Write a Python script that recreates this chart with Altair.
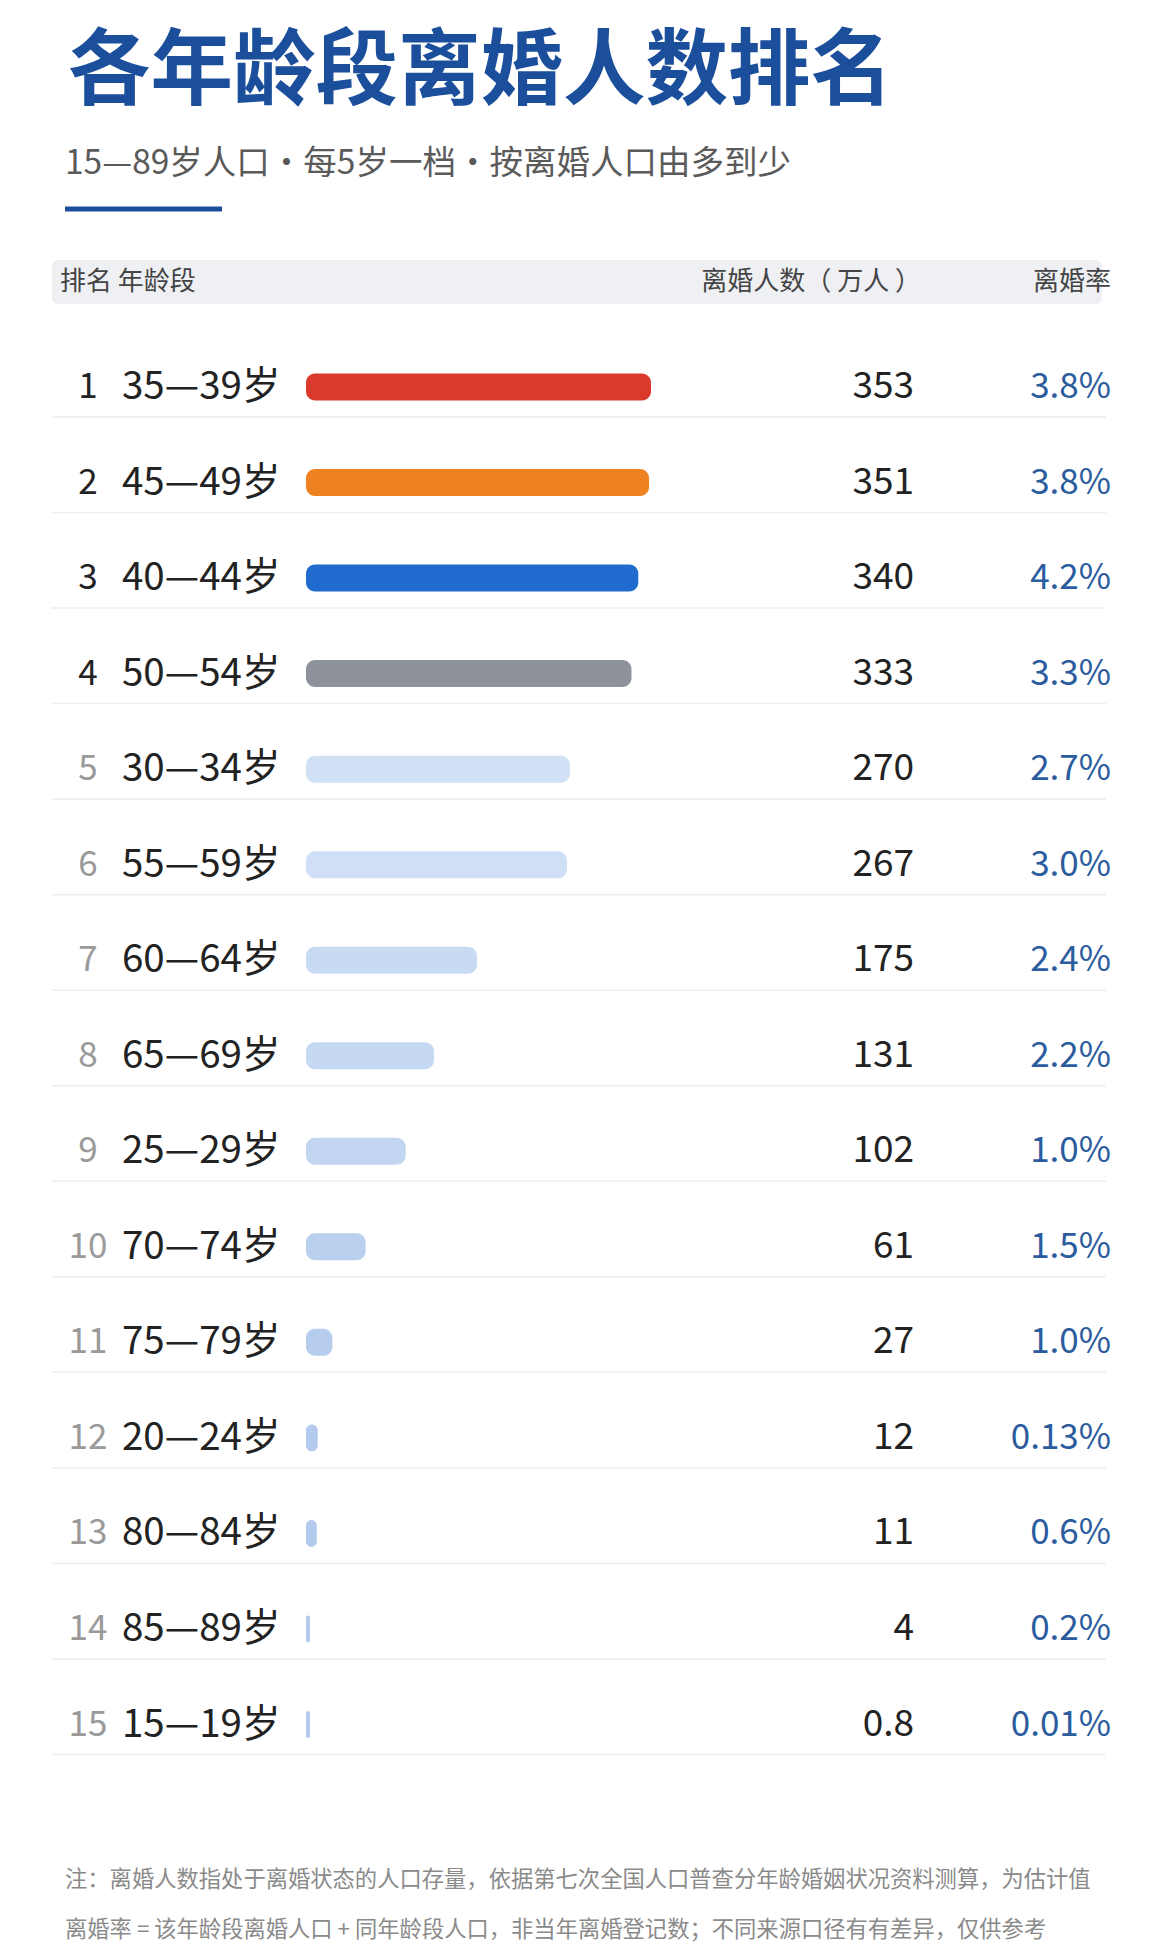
import altair as alt
import pandas as pd

# ---------------- data ----------------
title_text = "各年龄段离婚人数排名"
subtitle_text = "15—89岁人口·每5岁一档·按离婚人口由多到少"
header_left = "排名 年龄段"
header_mid = "离婚人数（ 万人 ）"
header_right = "离婚率"
note_1 = "注：离婚人数指处于离婚状态的人口存量，依据第七次全国人口普查分年龄婚姻状况资料测算，为估计值"
note_2 = "离婚率 = 该年龄段离婚人口 + 同年龄段人口，非当年离婚登记数；不同来源口径有有差异，仅供参考"

ranks = list(range(1, 16))
ages = ["35—39岁", "45—49岁", "40—44岁", "50—54岁", "30—34岁", "55—59岁", "60—64岁",
        "65—69岁", "25—29岁", "70—74岁", "75—79岁", "20—24岁", "80—84岁", "85—89岁", "15—19岁"]
counts = [353, 351, 340, 333, 270, 267, 175, 131, 102, 61, 27, 12, 11, 4, 0.8]
count_labels = ["353", "351", "340", "333", "270", "267", "175", "131", "102", "61",
                "27", "12", "11", "4", "0.8"]
rates = ["3.8%", "3.8%", "4.2%", "3.3%", "2.7%", "3.0%", "2.4%", "2.2%", "1.0%", "1.5%",
         "1.0%", "0.13%", "0.6%", "0.2%", "0.01%"]

# ---------------- styles ----------------
bar_colors = ["#d93a2c", "#ef8220", "#1f6bce", "#8d929b",
              "#d0e0f5", "#cfdff5", "#c9dbf3", "#c6d9f2", "#c2d6f1",
              "#bad0ef", "#b6cdee", "#b4cbed", "#b3caed", "#b3caed", "#b3caed"]
FONT = "Noto Sans CJK SC"
TITLE_BLUE = "#1b4f9c"

df = pd.DataFrame({"rank": ranks, "age": ages, "count": counts,
                   "label": count_labels, "rate": rates})
df["zero"] = 0.0
df["disp"] = df["count"].clip(lower=4)

one = pd.DataFrame({"a": [0]})

W, H = 1136, 1937
yscale = alt.Scale(domain=[1, 15], range=[374, 1721.5])
xscale = alt.Scale(domain=[0, 353], range=[298, 643])
Y = alt.Y("rank:Q", scale=yscale, axis=None)

# ---------------- decoration ----------------
title = alt.Chart(one).mark_text(align="left", baseline="middle", fontSize=82.5,
                                 fontWeight="bold", color=TITLE_BLUE, font=FONT).encode(
    x=alt.value(60), y=alt.value(65), text=alt.value(title_text))

subtitle = alt.Chart(one).mark_text(align="left", baseline="middle", fontSize=33.5,
                                    color="#5a5a5a", font=FONT).encode(
    x=alt.value(57), y=alt.value(156), text=alt.value(subtitle_text))

underline = alt.Chart(one).mark_rule(color=TITLE_BLUE, strokeWidth=5).encode(
    x=alt.value(57), x2=alt.value(214), y=alt.value(201))

header_bg = alt.Chart(one).mark_rect(color="#eef0f4", cornerRadius=6).encode(
    x=alt.value(44), x2=alt.value(1094), y=alt.value(252), y2=alt.value(296))

hdr_l = alt.Chart(one).mark_text(align="left", baseline="middle", fontSize=26,
                                 color="#444444", font=FONT).encode(
    x=alt.value(52), y=alt.value(274), text=alt.value(header_left))
hdr_m = alt.Chart(one).mark_text(align="right", baseline="middle", fontSize=26,
                                 color="#444444", font=FONT).encode(
    x=alt.value(913), y=alt.value(274), text=alt.value(header_mid))
hdr_r = alt.Chart(one).mark_text(align="right", baseline="middle", fontSize=26,
                                 color="#444444", font=FONT).encode(
    x=alt.value(1103), y=alt.value(274), text=alt.value(header_right))

notes1 = alt.Chart(one).mark_text(align="left", baseline="middle", fontSize=22.3,
                                  color="#8a8a8a", font=FONT).encode(
    x=alt.value(57), y=alt.value(1872), text=alt.value(note_1))
notes2 = alt.Chart(one).mark_text(align="left", baseline="middle", fontSize=22.3,
                                  color="#8a8a8a", font=FONT).encode(
    x=alt.value(57), y=alt.value(1922), text=alt.value(note_2))

# ---------------- rows ----------------
base = alt.Chart(df)

separators = base.mark_rule(color="#eceef2", strokeWidth=1.5, yOffset=30).encode(
    x=alt.value(44), x2=alt.value(1098), y=Y)

bars = base.mark_bar(orient="horizontal", size=27, cornerRadius=9).encode(
    x=alt.X("zero:Q", scale=xscale, axis=None),
    x2="disp:Q",
    y=Y,
    color=alt.Color("rank:O", scale=alt.Scale(domain=ranks, range=bar_colors), legend=None),
)

rank_txt = base.mark_text(align="center", baseline="middle", fontSize=35, font=FONT).encode(
    x=alt.value(80), y=Y, text="rank:Q",
    color=alt.condition("datum.rank <= 4", alt.value("#222222"), alt.value("#9a9a9a")))

age_txt = base.mark_text(align="left", baseline="middle", fontSize=38.5, font=FONT,
                         color="#222222").encode(
    x=alt.value(114), y=Y, text="age:N")

val_txt = base.mark_text(align="right", baseline="middle", fontSize=37, font=FONT,
                         color="#222222").encode(
    x=alt.value(906), y=Y, text="label:N")

rate_txt = base.mark_text(align="right", baseline="middle", fontSize=35, font=FONT,
                          color="#2b5c9e").encode(
    x=alt.value(1103), y=Y, text="rate:N")

chart = alt.layer(
    header_bg, title, subtitle, underline, hdr_l, hdr_m, hdr_r,
    separators, bars, rank_txt, age_txt, val_txt, rate_txt, notes1, notes2,
).properties(
    width=W, height=H, autosize=alt.AutoSizeParams(type="none"), padding=0,
    background="#ffffff",
).configure_view(stroke=None)

chart.save("out.html", embed_options={"renderer": "svg", "actions": False})
